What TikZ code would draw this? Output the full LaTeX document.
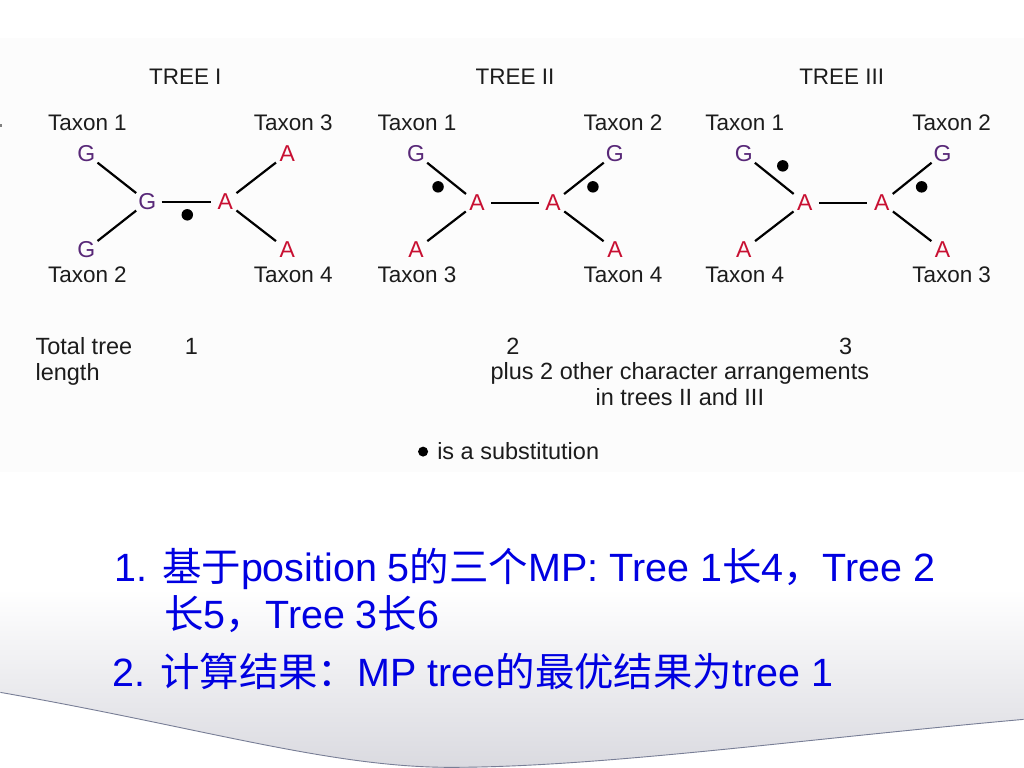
\documentclass[tikz,border=0pt]{standalone}
\usepackage{fontspec}
\setmainfont{Liberation Sans}
\newfontfamily\cjk{Noto Sans CJK SC}
\definecolor{baseG}{RGB}{88,40,120}
\definecolor{baseA}{RGB}{200,16,50}
\definecolor{txt}{RGB}{28,28,28}
\definecolor{cnblue}{RGB}{0,0,225}
\definecolor{figbg}{RGB}{252,252,252}
\definecolor{shadegray}{RGB}{218,218,224}
\definecolor{curveline}{RGB}{120,126,150}
\begin{document}
\begin{tikzpicture}[x=1pt,y=-1pt,
  lbl/.style={text=txt,font=\fontsize{22.5}{26}\selectfont,inner sep=0},
  small/.style={text=txt,font=\fontsize{23.5}{27}\selectfont,inner sep=0},
  basenode/.style={circle,minimum size=28pt,inner sep=0,font=\fontsize{23}{26}\selectfont},
  bG/.style={basenode,text=baseG},
  bA/.style={basenode,text=baseA},
  branch/.style={line width=2.2pt,black},
  subst/.style={circle,fill=black,minimum size=11.5pt,inner sep=0},
  cn/.style={text=cnblue,font=\fontsize{39.5}{45}\selectfont,inner sep=0,anchor=base west}]
% page and backgrounds
\fill[white] (0,0) rectangle (1024,768);
\fill[figbg] (0,38) rectangle (1024,472);
\shade[top color=white,bottom color=shadegray]
  (0,590) -- (1024,590) -- (1024,720)
  .. controls (800,740) and (600,768) .. (450,768)
  .. controls (330,768) and (200,728) .. (0,693) -- cycle;
\draw[curveline,line width=0.9pt] (0,693) .. controls (200,728) and (330,768) .. (450,768)
  .. controls (600,768) and (800,740) .. (1024,720);
\fill[gray] (0,124) rectangle (2,127);

% ---------- TREE I ----------
\node[lbl] (h1) at (185,77) {TREE I};
\node[lbl] (t1x1) at (87,123) {Taxon 1};
\node[lbl] (t1x2) at (87,275) {Taxon 2};
\node[lbl] (t1x3) at (293,123) {Taxon 3};
\node[lbl] (t1x4) at (293,275) {Taxon 4};
\node[bG] (t1l1) at (86,154) {G};
\node[bG] (t1l2) at (86,250) {G};
\node[bA] (t1l3) at (287,154) {A};
\node[bA] (t1l4) at (287,250) {A};
\node[bG] (t1i1) at (147,202) {G};
\node[bA] (t1i2) at (225,202) {A};
\draw[branch] (t1l1) -- (t1i1);
\draw[branch] (t1l2) -- (t1i1);
\draw[branch] (t1i1) -- (t1i2);
\draw[branch] (t1i2) -- (t1l3);
\draw[branch] (t1i2) -- (t1l4);
\node[subst] (t1d1) at (187,215) {};

% ---------- TREE II ----------
\node[lbl] (h2) at (515,77) {TREE II};
\node[lbl] (t2x1) at (417,123) {Taxon 1};
\node[lbl] (t2x3) at (417,275) {Taxon 3};
\node[lbl] (t2x2) at (623,123) {Taxon 2};
\node[lbl] (t2x4) at (623,275) {Taxon 4};
\node[bG] (t2l1) at (416,154) {G};
\node[bA] (t2l3) at (416,250) {A};
\node[bG] (t2l2) at (615,154) {G};
\node[bA] (t2l4) at (615,250) {A};
\node[bA] (t2i1) at (477,203) {A};
\node[bA] (t2i2) at (553,203) {A};
\draw[branch] (t2l1) -- (t2i1);
\draw[branch] (t2l3) -- (t2i1);
\draw[branch] (t2i1) -- (t2i2);
\draw[branch] (t2i2) -- (t2l2);
\draw[branch] (t2i2) -- (t2l4);
\node[subst] (t2d1) at (438,187) {};
\node[subst] (t2d2) at (593,187) {};

% ---------- TREE III ----------
\node[lbl] (h3) at (842,77) {TREE III};
\node[lbl] (t3x1) at (745,123) {Taxon 1};
\node[lbl] (t3x4) at (745,275) {Taxon 4};
\node[lbl] (t3x2) at (952,123) {Taxon 2};
\node[lbl] (t3x3) at (952,275) {Taxon 3};
\node[bG] (t3l1) at (744,154) {G};
\node[bA] (t3l4) at (744,250) {A};
\node[bG] (t3l2) at (943,154) {G};
\node[bA] (t3l3) at (943,250) {A};
\node[bA] (t3i1) at (805,203) {A};
\node[bA] (t3i2) at (882,203) {A};
\draw[branch] (t3l1) -- (t3i1);
\draw[branch] (t3l4) -- (t3i1);
\draw[branch] (t3i1) -- (t3i2);
\draw[branch] (t3i2) -- (t3l2);
\draw[branch] (t3i2) -- (t3l3);
\node[subst] (t3d1) at (783,166) {};
\node[subst] (t3d2) at (922,187) {};

% ---------- lengths ----------
\node[small,anchor=base west] (tl1) at (35,355) {Total tree};
\node[small,anchor=base west] (tl2) at (35,381) {length};
\node[small] (n1) at (191,347) {1};
\node[small] (n2) at (513,347) {2};
\node[small] (n3) at (846,347) {3};
\node[small,anchor=base] (p1) at (680,380) {plus 2 other character arrangements};
\node[small,anchor=base] (p2) at (680,406) {in trees II and III};
\node[subst,minimum size=10pt] (kd) at (423,452) {};
\node[small,anchor=base west] (kt) at (437,460) {is a substitution};

% ---------- Chinese notes ----------
\node[cn] (c1) at (114,582) {1. {\cjk 基于}position 5{\cjk 的三个}MP: Tree 1{\cjk 长}4{\cjk ，}Tree 2};
\node[cn] (c2) at (164,629) {{\cjk 长}5{\cjk ，}Tree 3{\cjk 长}6};
\node[cn] (c3) at (112,687) {2. {\cjk 计算结果：}MP tree{\cjk 的最优结果为}tree 1};
\end{tikzpicture}
\end{document}
